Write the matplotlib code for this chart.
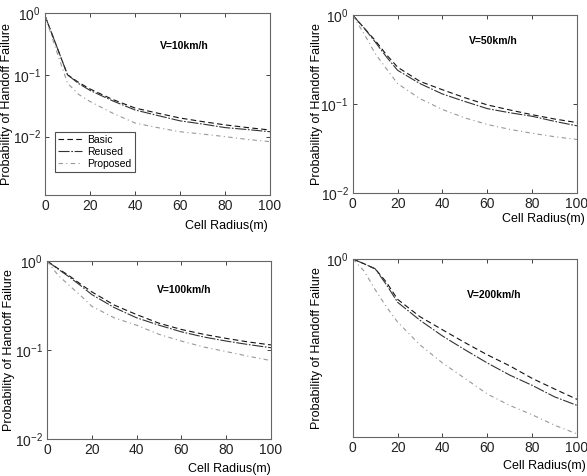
import matplotlib
matplotlib.use("Agg")
import matplotlib.pyplot as plt
import numpy as np

plt.rcParams['font.family'] = ['Liberation Sans', 'DejaVu Sans']

radius = [0, 5, 10, 15, 20, 30, 40, 50, 60, 70, 80, 90, 100]

# V = 10 km/h
basic_10 = [0.9, 0.30, 0.10, 0.075, 0.059, 0.040, 0.029, 0.024, 0.020, 0.0175, 0.0155, 0.014, 0.0128]
reused_10 = [0.9, 0.30, 0.10, 0.072, 0.056, 0.038, 0.027, 0.022, 0.018, 0.016, 0.014, 0.013, 0.012]
proposed_10 = [0.9, 0.25, 0.073, 0.048, 0.037, 0.024, 0.0166, 0.014, 0.012, 0.011, 0.010, 0.009, 0.0083]

# V = 50 km/h
basic_50 = [1.0, 0.72, 0.52, 0.36, 0.26, 0.18, 0.145, 0.118, 0.098, 0.086, 0.076, 0.068, 0.062]
reused_50 = [1.0, 0.72, 0.50, 0.34, 0.24, 0.17, 0.13, 0.107, 0.089, 0.080, 0.073, 0.064, 0.057]
proposed_50 = [1.0, 0.62, 0.37, 0.25, 0.17, 0.115, 0.087, 0.070, 0.059, 0.052, 0.047, 0.043, 0.040]

# V = 100 km/h
basic_100 = [1.0, 0.82, 0.68, 0.55, 0.45, 0.32, 0.25, 0.20, 0.17, 0.15, 0.135, 0.123, 0.114]
reused_100 = [1.0, 0.81, 0.66, 0.53, 0.42, 0.30, 0.23, 0.19, 0.16, 0.14, 0.126, 0.115, 0.106]
proposed_100 = [1.0, 0.69, 0.53, 0.41, 0.31, 0.23, 0.19, 0.15, 0.126, 0.108, 0.096, 0.085, 0.076]

# V = 200 km/h
basic_200 = [1.0, 0.95, 0.90, 0.78, 0.65, 0.54, 0.47, 0.41, 0.36, 0.32, 0.28, 0.25, 0.224]
reused_200 = [1.0, 0.95, 0.90, 0.76, 0.63, 0.52, 0.44, 0.38, 0.33, 0.29, 0.26, 0.23, 0.21]
proposed_200 = [1.0, 0.88, 0.72, 0.60, 0.51, 0.40, 0.33, 0.28, 0.237, 0.21, 0.19, 0.17, 0.155]

speeds = ["V=10km/h", "V=50km/h", "V=100km/h", "V=200km/h"]
panels = [
    (basic_10, reused_10, proposed_10),
    (basic_50, reused_50, proposed_50),
    (basic_100, reused_100, proposed_100),
    (basic_200, reused_200, proposed_200),
]

fig = plt.figure(figsize=(5.87, 4.76), dpi=100)
rects = [
    [0.0767, 0.590, 0.3833, 0.3827],
    [0.601, 0.5945, 0.382, 0.3735],
    [0.080, 0.0777, 0.3817, 0.374],
    [0.601, 0.082, 0.382, 0.374],
]
ylims = [(1.13e-3, 1.0), (1e-2, 1.0), (1e-2, 1.0), (0.15, 1.0)]
text_pos = [(0.51, 0.80), (0.52, 0.84), (0.49, 0.82), (0.51, 0.78)]
ylabel_x = [-0.142, -0.134, -0.143, -0.134]
xlabel_pos = [(0.99, -0.135), (1.035, -0.11), (1.0, -0.135), (1.04, -0.13)]

for i, (basic, reused, proposed) in enumerate(panels):
    ax = fig.add_axes(rects[i])
    ax.plot(radius, basic, color='#111111', lw=0.8, dashes=(5, 3), label='Basic')
    ax.plot(radius, reused, color='#333333', lw=0.8, dashes=(10, 1.5, 1.5, 1.5), label='Reused')
    ax.plot(radius, proposed, color='#999999', lw=0.8, dashes=(4, 3, 1, 3), label='Proposed')
    ax.set_yscale('log')
    ax.set_xlim(0, 100)
    ax.set_ylim(*ylims[i])
    ax.set_xticks([0, 20, 40, 60, 80, 100])
    if i == 3:
        ax.set_yticks([1])
    else:
        ax.set_yticks([1, 0.1, 0.01])
    ax.yaxis.set_minor_locator(matplotlib.ticker.NullLocator())
    ax.tick_params(direction='in', top=True, right=True, length=3, width=0.6,
                   labelsize=10, colors='#222222', pad=3)
    for s in ax.spines.values():
        s.set_color('#666666')
        s.set_linewidth(0.8)
    ax.set_ylabel("Probability of Handoff Failure", fontsize=9)
    ax.yaxis.set_label_coords(ylabel_x[i], 0.5)
    ax.set_xlabel("Cell Radius(m)", fontsize=9, loc='right')
    ax.xaxis.set_label_coords(*xlabel_pos[i])
    ax.text(text_pos[i][0], text_pos[i][1], speeds[i], transform=ax.transAxes,
            fontsize=7.5, fontweight='bold')
    if i == 0:
        leg = ax.legend(loc='lower left', bbox_to_anchor=(0.044, 0.126),
                        borderaxespad=0, fontsize=7.5, fancybox=False,
                        handlelength=2.3, handletextpad=0.5,
                        labelspacing=0.2, borderpad=0.3)
        leg.get_frame().set_edgecolor('#222222')
        leg.get_frame().set_linewidth(0.8)

fig.savefig("out.png", dpi=100)
